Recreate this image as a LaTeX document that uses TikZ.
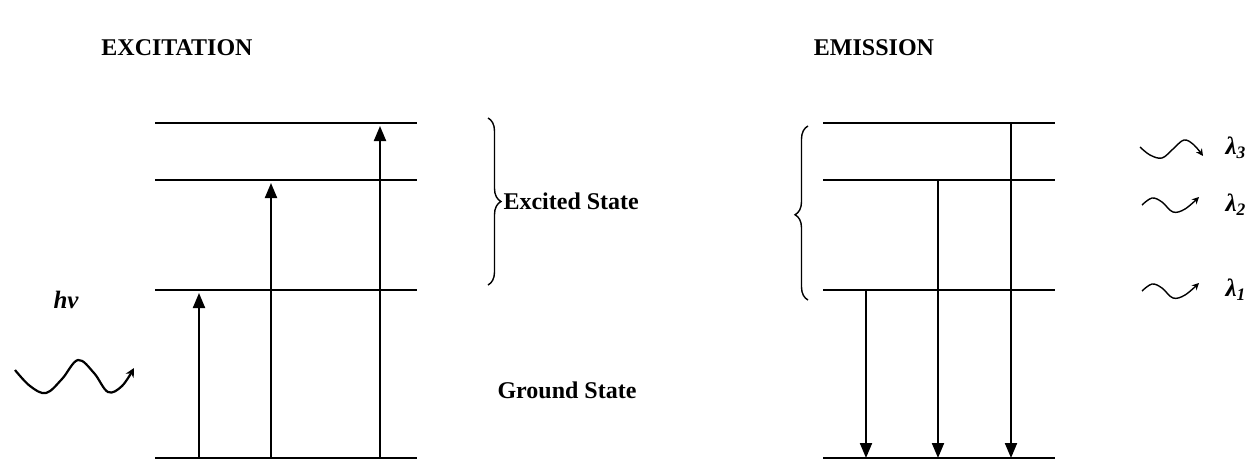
\documentclass[tikz,border=0pt]{standalone}
\usepackage{fontspec}
\setmainfont{Liberation Serif}
\usetikzlibrary{arrows.meta,decorations.pathreplacing}
\begin{document}
\begin{tikzpicture}[x=1pt,y=-1pt,
  level/.style={line width=2pt},
  groundlevel/.style={line width=2.6pt},
  transition/.style={line width=2pt,-{Triangle[width=12pt,length=15pt]}},
  photon/.style={line width=2.2pt,-{Stealth[width=9pt,length=9pt]}},
  smallphoton/.style={line width=1.4pt,-{Stealth[width=7pt,length=7pt]}},
  title/.style={font=\bfseries\fontsize{24}{28}\selectfont},
  lab/.style={font=\bfseries\fontsize{24}{28}\selectfont},
  sym/.style={font=\bfseries\itshape\fontsize{25}{29}\selectfont, anchor=west},
  curly/.style={decorate, decoration={brace, amplitude=13pt, aspect=#1}, line width=1.4pt}]
\useasboundingbox (0,0) rectangle (1251,459);

% ---------- titles ----------
\node[title] (extitle) at (177,48) {EXCITATION};
\node[title] (emtitle) at (874,48) {EMISSION};

% ---------- excitation energy levels ----------
\draw[level] (155,123) -- (417,123);
\draw[level] (155,180) -- (417,180);
\draw[level] (155,290) -- (417,290);
\draw[level] (155,458) -- (417,458);

% absorption transitions
\coordinate (u1s) at (199,458); \coordinate (u1e) at (199,293);
\coordinate (u2s) at (271,458); \coordinate (u2e) at (271,183);
\coordinate (u3s) at (380,458); \coordinate (u3e) at (380,126);
\draw[transition] (u1s) -- (u1e);
\draw[transition] (u2s) -- (u2e);
\draw[transition] (u3s) -- (u3e);

% excited-state brace and labels
\coordinate (bra) at (488,118); \coordinate (brb) at (488,285);
\draw[curly=0.5] (bra) -- (brb);
\node[lab, anchor=west] (excited) at (500,201) {Excited State};
\node[lab] (ground) at (567,390) {Ground State};

% incoming photon
\node[sym] (hv) at (50,300) {hv};
\draw[photon] plot[smooth, tension=0.6] coordinates
  {(15,370) (30,386) (46,393) (62,379) (78,360) (94,373) (108,392) (122,386) (134,368)};

% ---------- emission energy levels ----------
\draw[level] (823,123) -- (1055,123);
\draw[level] (823,180) -- (1055,180);
\draw[groundlevel] (823,290) -- (1055,290);
\draw[level] (823,458) -- (1055,458);

% emission transitions
\coordinate (d1s) at (866,290); \coordinate (d1e) at (866,458);
\coordinate (d2s) at (938,180); \coordinate (d2e) at (938,458);
\coordinate (d3s) at (1011,123); \coordinate (d3e) at (1011,458);
\draw[transition] (d1s) -- (d1e);
\draw[transition] (d2s) -- (d2e);
\draw[transition] (d3s) -- (d3e);

% brace over the excited levels
\coordinate (bla) at (808,300); \coordinate (blb) at (808,126);
\draw[curly=0.49] (bla) -- (blb);

% emitted photons
\draw[smallphoton] plot[smooth, tension=0.6] coordinates
  {(1140,147) (1150,155) (1162,158) (1173,149) (1184,140) (1194,145) (1203,156)};
\draw[smallphoton] plot[smooth, tension=0.6] coordinates
  {(1142,205) (1152,198) (1162,202) (1173,212) (1185,209) (1199,197)};
\draw[smallphoton] plot[smooth, tension=0.6] coordinates
  {(1142,291) (1152,284) (1162,288) (1173,298) (1185,295) (1199,283)};
\node[sym] (l3) at (1222,148) {λ\textsubscript{3}};
\node[sym] (l2) at (1222,205) {λ\textsubscript{2}};
\node[sym] (l1) at (1222,290) {λ\textsubscript{1}};
\end{tikzpicture}
\end{document}
